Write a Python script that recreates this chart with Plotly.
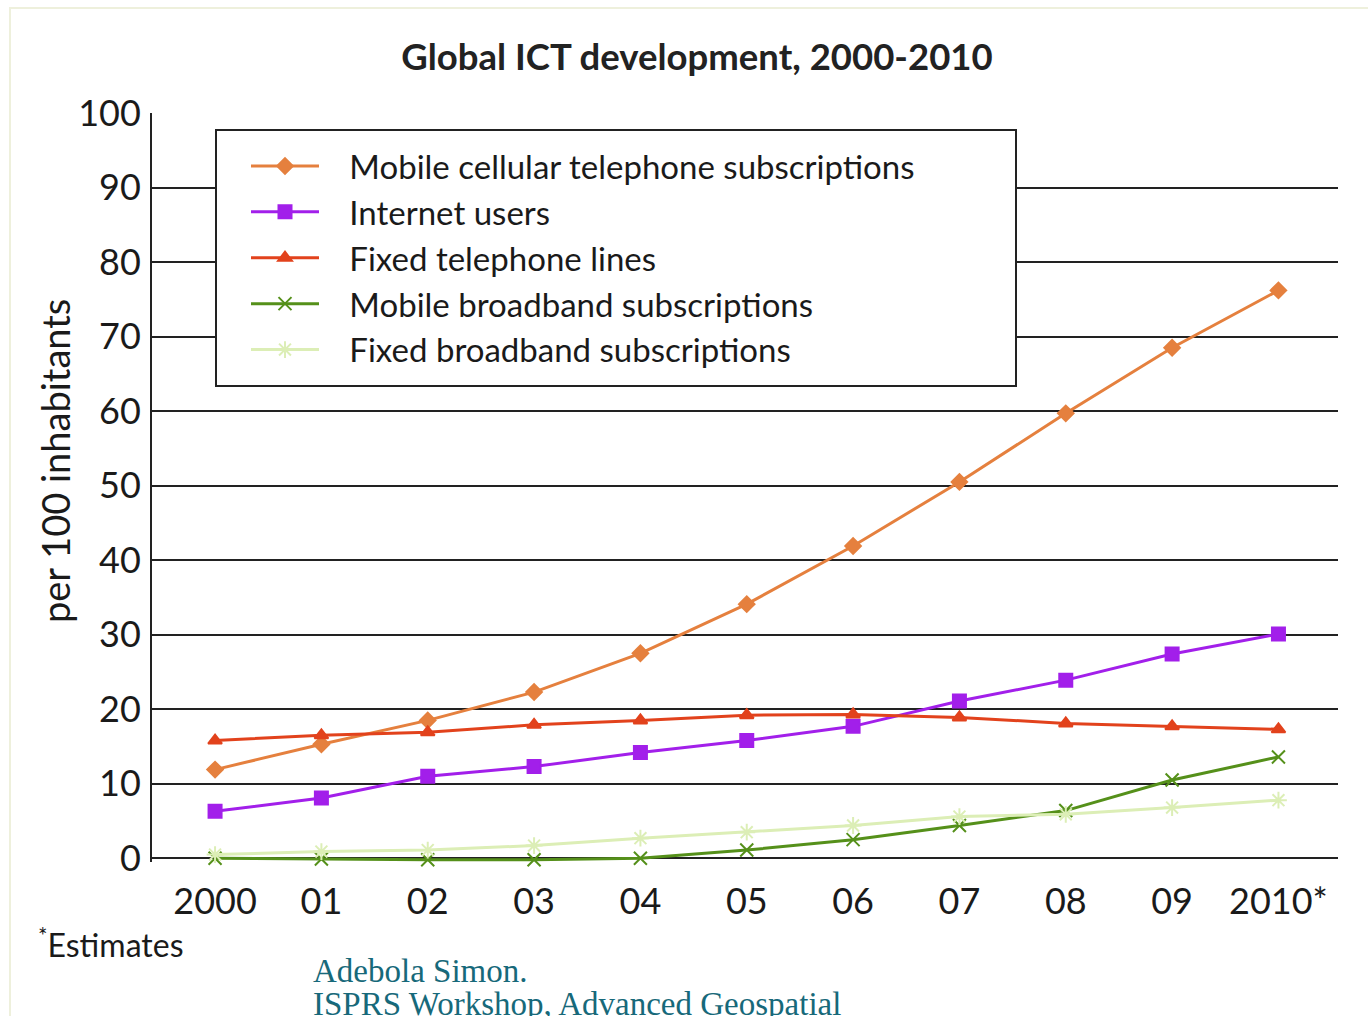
import plotly.graph_objects as go

years = [0, 1, 2, 3, 4, 5, 6, 7, 8, 9, 10]
year_labels = ["2000", "01", "02", "03", "04", "05", "06", "07", "08", "09", "2010*"]

mobile_cellular = [11.9, 15.3, 18.5, 22.3, 27.5, 34.1, 41.9, 50.5, 59.7, 68.5, 76.2]
internet_users = [6.3, 8.1, 11.0, 12.3, 14.2, 15.8, 17.7, 21.1, 23.9, 27.4, 30.1]
fixed_telephone = [15.8, 16.5, 16.9, 17.9, 18.5, 19.2, 19.3, 18.9, 18.1, 17.7, 17.3]
mobile_broadband = [0.0, -0.1, -0.2, -0.2, 0.0, 1.1, 2.5, 4.4, 6.4, 10.5, 13.6]
fixed_broadband = [0.5, 0.9, 1.1, 1.7, 2.7, 3.5, 4.4, 5.6, 5.9, 6.8, 7.8]

series = [
    ("Mobile cellular telephone subscriptions", mobile_cellular, "#E5803E", "diamond", 12),
    ("Internet users", internet_users, "#A21FEA", "square", 13),
    ("Fixed telephone lines", fixed_telephone, "#E2421C", "triangle-up", 12),
    ("Mobile broadband subscriptions", mobile_broadband, "#55901A", "x-thin-open", 13),
    ("Fixed broadband subscriptions", fixed_broadband, "#DCEEB6", "asterisk-open", 14),
]

FONT = "Lato, 'Open Sans', sans-serif"

fig = go.Figure()
for name, vals, color, sym, size in series:
    fig.add_trace(go.Scatter(
        x=years, y=vals, name="&nbsp;&nbsp;&nbsp;" + name, mode="lines+markers",
        line=dict(color=color, width=3),
        marker=dict(symbol=sym, size=size, color=color,
                    line=dict(color=color, width=2)),
        cliponaxis=False,
    ))

W, H = 1368, 1016
L, R, T, B = 152, 30, 113, 154
pw, ph = W - L - R, H - T - B


def px(x):
    return (x - L) / pw


def py(y):
    return (H - B - y) / ph


fig.update_layout(
    width=W, height=H,
    margin=dict(l=L, r=R, t=T, b=B),
    paper_bgcolor="white", plot_bgcolor="white",
    font=dict(family=FONT, color="#1a1a1a"),
    title=dict(text="<b>Global ICT development, 2000-2010</b>",
               x=(697) / W, xanchor="center", y=1 - 57 / H, yanchor="middle",
               font=dict(size=36.5, family=FONT, color="#222")),
    showlegend=True,
    legend=dict(x=px(246), y=py(138), xanchor="left", yanchor="top",
                bgcolor="rgba(0,0,0,0)", borderwidth=0,
                font=dict(size=33, family=FONT, color="#1a1a1a"),
                tracegroupgap=0, itemwidth=68),
    xaxis=dict(range=[-0.593, 10.56], tickmode="array", tickvals=years,
               ticktext=year_labels, showgrid=False, zeroline=False,
               showline=False, tickfont=dict(size=36), ticks="",
               ticklabelstandoff=15),
    yaxis=dict(range=[-0.5, 100], tickmode="array",
               tickvals=[0, 10, 20, 30, 40, 50, 60, 70, 80, 90, 100],
               showgrid=True, gridcolor="#222",
               gridwidth=2, zeroline=False, showline=True, linecolor="#222",
               linewidth=2, ticks="", tickfont=dict(size=36),
               ticklabelstandoff=2),
)

# y-axis title
fig.add_annotation(text="per 100 inhabitants", xref="paper", yref="paper",
                   x=px(55), y=py(461), xanchor="center", yanchor="middle",
                   textangle=-90, showarrow=False,
                   font=dict(size=38, color="#1a1a1a", family=FONT))

# legend frame
fig.add_shape(type="rect", xref="paper", yref="paper",
              x0=px(216), x1=px(1016), y0=py(386), y1=py(130),
              line=dict(color="#222", width=2), fillcolor="white", layer="above")
# faint slide border
fig.add_shape(type="rect", xref="paper", yref="paper",
              x0=px(10), x1=px(1375), y0=py(1030), y1=py(8),
              line=dict(color="#EEF0DC", width=2), fillcolor="rgba(0,0,0,0)", layer="below")

fig.add_annotation(text="<sup>*</sup>Estimates", xref="paper", yref="paper",
                   x=px(36), y=py(943), xanchor="left", yanchor="middle",
                   showarrow=False, font=dict(size=32, color="#1a1a1a", family=FONT))
fig.add_annotation(text="Adebola Simon.", xref="paper", yref="paper",
                   x=px(311), y=py(971), xanchor="left", yanchor="middle", showarrow=False,
                   font=dict(size=33, color="#17697A", family="Liberation Serif, serif"))
fig.add_annotation(text="ISPRS Workshop, Advanced Geospatial", xref="paper", yref="paper",
                   x=px(311), y=py(1004), xanchor="left", yanchor="middle", showarrow=False,
                   font=dict(size=33, color="#17697A", family="Liberation Serif, serif"))

fig.write_html("out.html")
